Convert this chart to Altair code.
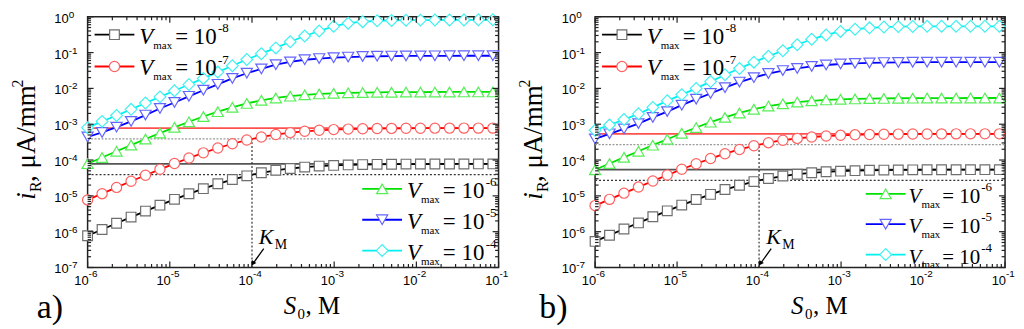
import altair as alt
import pandas as pd

# ---------------- data ----------------
S0 = [1.0e-6, 1.5e-6, 2.25e-6, 3.38e-6, 5.06e-6, 7.59e-6, 1.14e-5, 1.71e-5, 2.56e-5, 3.84e-5,
      5.77e-5, 8.65e-5, 1.30e-4, 1.95e-4, 2.92e-4, 4.38e-4, 6.57e-4, 9.85e-4, 1.48e-3, 2.22e-3,
      3.33e-3, 4.99e-3, 7.48e-3, 1.12e-2, 1.68e-2, 2.53e-2, 3.79e-2, 5.68e-2, 8.52e-2]

# panel a)
A_VMAX_1E8 = [7.7e-7, 1.15e-6, 1.72e-6, 2.55e-6, 3.76e-6, 5.5e-6, 7.98e-6, 1.14e-5, 1.59e-5, 2.17e-5,
              2.85e-5, 3.62e-5, 4.4e-5, 5.15e-5, 5.81e-5, 6.35e-5, 6.77e-5, 7.08e-5, 7.31e-5, 7.46e-5,
              7.57e-5, 7.65e-5, 7.70e-5, 7.73e-5, 7.75e-5, 7.77e-5, 7.78e-5, 7.79e-5, 7.79e-5]
A_VMAX_1E7 = [7.7e-6, 1.15e-5, 1.72e-5, 2.55e-5, 3.76e-5, 5.5e-5, 7.98e-5, 1.14e-4, 1.59e-4, 2.17e-4,
              2.85e-4, 3.62e-4, 4.4e-4, 5.15e-4, 5.81e-4, 6.35e-4, 6.77e-4, 7.08e-4, 7.31e-4, 7.46e-4,
              7.57e-4, 7.65e-4, 7.70e-4, 7.73e-4, 7.75e-4, 7.77e-4, 7.78e-4, 7.79e-4, 7.79e-4]
A_VMAX_1E6 = [7.9e-5, 1.18e-4, 1.76e-4, 2.61e-4, 3.86e-4, 5.65e-4, 8.2e-4, 1.17e-3, 1.64e-3, 2.24e-3,
              2.97e-3, 3.8e-3, 4.65e-3, 5.4e-3, 6.05e-3, 6.6e-3, 7.0e-3, 7.3e-3, 7.5e-3, 7.65e-3,
              7.75e-3, 7.82e-3, 7.87e-3, 7.9e-3, 7.93e-3, 7.95e-3, 7.96e-3, 7.97e-3, 7.97e-3]
A_VMAX_1E5 = [4.4e-4, 5.9e-4, 8.3e-4, 1.2e-3, 1.8e-3, 2.75e-3, 4.05e-3, 6.0e-3, 8.9e-3, 1.3e-2,
              1.9e-2, 2.65e-2, 3.5e-2, 4.6e-2, 5.5e-2, 6.3e-2, 6.8e-2, 7.2e-2, 7.5e-2, 7.75e-2,
              7.9e-2, 8.0e-2, 8.05e-2, 8.1e-2, 8.12e-2, 8.14e-2, 8.15e-2, 8.15e-2, 8.15e-2]
A_VMAX_1E4 = [8.0e-4, 1.2e-3, 1.75e-3, 2.6e-3, 3.9e-3, 5.8e-3, 8.6e-3, 1.28e-2, 1.9e-2, 2.85e-2,
              4.3e-2, 6.4e-2, 9.3e-2, 0.135, 0.2, 0.29, 0.4, 0.54, 0.66, 0.73,
              0.77, 0.79, 0.80, 0.805, 0.81, 0.815, 0.815, 0.82, 0.82]

# panel b)
B_VMAX_1E8 = [5.35e-7, 7.98e-7, 1.19e-6, 1.76e-6, 2.6e-6, 3.81e-6, 5.52e-6, 7.88e-6, 1.10e-5, 1.5e-5,
              1.97e-5, 2.5e-5, 3.05e-5, 3.57e-5, 4.02e-5, 4.4e-5, 4.69e-5, 4.9e-5, 5.06e-5, 5.17e-5,
              5.24e-5, 5.29e-5, 5.33e-5, 5.35e-5, 5.37e-5, 5.38e-5, 5.39e-5, 5.39e-5, 5.39e-5]
B_VMAX_1E7 = [5.35e-6, 7.98e-6, 1.19e-5, 1.76e-5, 2.6e-5, 3.81e-5, 5.52e-5, 7.88e-5, 1.10e-4, 1.5e-4,
              1.97e-4, 2.5e-4, 3.05e-4, 3.57e-4, 4.02e-4, 4.4e-4, 4.69e-4, 4.9e-4, 5.06e-4, 5.17e-4,
              5.24e-4, 5.29e-4, 5.33e-4, 5.35e-4, 5.37e-4, 5.38e-4, 5.39e-4, 5.39e-4, 5.39e-4]
B_VMAX_1E6 = [5.35e-5, 7.98e-5, 1.19e-4, 1.76e-4, 2.6e-4, 3.81e-4, 5.6e-4, 8.1e-4, 1.14e-3, 1.55e-3,
              2.06e-3, 2.62e-3, 3.2e-3, 3.72e-3, 4.15e-3, 4.5e-3, 4.76e-3, 4.95e-3, 5.08e-3, 5.18e-3,
              5.25e-3, 5.3e-3, 5.33e-3, 5.35e-3, 5.37e-3, 5.38e-3, 5.39e-3, 5.39e-3, 5.39e-3]
B_VMAX_1E5 = [3.9e-4, 5.4e-4, 7.4e-4, 1.04e-3, 1.55e-3, 2.25e-3, 3.4e-3, 5.0e-3, 7.2e-3, 1.05e-2,
              1.5e-2, 2.0e-2, 2.6e-2, 3.15e-2, 3.6e-2, 4.1e-2, 4.5e-2, 4.8e-2, 5.0e-2, 5.15e-2,
              5.25e-2, 5.32e-2, 5.36e-2, 5.38e-2, 5.4e-2, 5.4e-2, 5.4e-2, 5.4e-2, 5.4e-2]
B_VMAX_1E4 = [6.8e-4, 9.5e-4, 1.35e-3, 1.95e-3, 2.95e-3, 4.5e-3, 6.7e-3, 1.0e-2, 1.55e-2, 2.4e-2,
              3.6e-2, 5.4e-2, 7.9e-2, 0.113, 0.165, 0.235, 0.31, 0.39, 0.45, 0.49,
              0.515, 0.53, 0.537, 0.54, 0.54, 0.54, 0.54, 0.54, 0.54]

# saturation (solid) and half-saturation (dotted) guide levels for Vmax 1e-8 and 1e-7
A_SAT = [7.8e-5, 7.8e-4]
A_HALF = [3.9e-5, 3.9e-4]
B_SAT = [5.4e-5, 5.4e-4]
B_HALF = [2.7e-5, 2.7e-4]
KM = 1e-4

X_MAJOR = [1e-6, 1e-5, 1e-4, 1e-3, 1e-2, 1e-1]
X_EXP = ["-6", "-5", "-4", "-3", "-2", "-1"]
Y_MAJOR = [1.0, 1e-1, 1e-2, 1e-3, 1e-4, 1e-5, 1e-6, 1e-7]
Y_EXP = ["0", "-1", "-2", "-3", "-4", "-5", "-6", "-7"]
X_MINOR = [m * 10.0 ** e for e in range(-6, -1) for m in range(2, 10)]
Y_MINOR = [m * 10.0 ** e for e in range(-7, 0) for m in range(2, 10)]
VMAX_EXP = ["-8", "-7", "-6", "-5", "-4"]

# ---------------- styling ----------------
H = 252
W_A, W_B = 413, 412
SERIF = "Liberation Serif"
SANS = "Liberation Sans"
XS = alt.Scale(type="log", domain=[1e-6, 1e-1], nice=False)
YS = alt.Scale(type="log", domain=[1e-7, 1.0], nice=False)
ONE = pd.DataFrame({"d": [0]})

STYLE = [  # line colour, marker colour, shape, size
    ("#000000", "#6e6e6e", "square", 95),
    ("#ff0000", "#ff6060", "circle", 105),
    ("#00e000", "#55ee55", "triangle-up", 125),
    ("#0000ff", "#6464ff", "triangle-down", 125),
    ("#00f0f0", "#40f0f0", "diamond", 140),
]


def X(field="S"):
    return alt.X(f"{field}:Q", scale=XS, axis=None)


def Y(field="i"):
    return alt.Y(f"{field}:Q", scale=YS, axis=None)


def txt(x, y, s, size, italic=False, align="left", angle=None, font=SERIF):
    kw = dict(align=align, baseline="alphabetic", font=font, fontSize=size, color="black")
    if italic:
        kw["fontStyle"] = "italic"
    if angle is not None:
        kw["angle"] = angle
    return alt.Chart(ONE).mark_text(**kw).encode(x=alt.value(x), y=alt.value(y), text=alt.value(s))


def legend_entry(x0, y0, k, compact=False):
    lc, mc, shp, sz = STYLE[k]
    if compact:
        off, fs = (43, 56, 77, 116), 21
    else:
        off, fs = (45, 59, 81, 124), 23
    out = [
        alt.Chart(ONE).mark_rule(color=lc, strokeWidth=1.8).encode(
            x=alt.value(x0), x2=alt.value(x0 + 40), y=alt.value(y0)),
        alt.Chart(ONE).mark_point(shape=shp, size=sz, filled=True, fill="white", stroke=mc,
                                  strokeWidth=1.2, opacity=1).encode(
            x=alt.value(x0 + 20), y=alt.value(y0)),
        txt(x0 + off[0], y0 + 9, "V", fs, italic=True),
        txt(x0 + off[1], y0 + 14, "max", 11),
        txt(x0 + off[2], y0 + 9, "= 10", fs),
        txt(x0 + off[3], y0 - 3, VMAX_EXP[k], 13),
    ]
    return out


def panel(series, sat, half, W, letter, letter_x, leg1, leg2, anchor, compact):
    L = []
    # white anchors fixing the overall bounds
    L.append(alt.Chart(ONE).mark_rule(color="white", strokeWidth=1).encode(
        x=alt.value(anchor[0]), y=alt.value(anchor[1]), y2=alt.value(anchor[1] + 1)))
    # guide lines
    L.append(alt.Chart(pd.DataFrame({"i": [half[0]]})).mark_rule(
        color="#333333", strokeWidth=1.2, strokeDash=[2, 2]).encode(
        y=Y(), x=alt.value(0), x2=alt.value(W)))
    L.append(alt.Chart(pd.DataFrame({"i": [half[1]]})).mark_rule(
        color="#9a9a9a", strokeWidth=1.2, strokeDash=[2, 1.5]).encode(
        y=Y(), x=alt.value(0), x2=alt.value(W)))
    L.append(alt.Chart(pd.DataFrame({"i": [sat[0]]})).mark_rule(
        color="#555555", strokeWidth=1.6).encode(y=Y(), x=alt.value(0), x2=alt.value(W)))
    L.append(alt.Chart(pd.DataFrame({"i": [sat[1]]})).mark_rule(
        color="#ff5050", strokeWidth=1.8).encode(y=Y(), x=alt.value(0), x2=alt.value(W)))
    L.append(alt.Chart(pd.DataFrame({"S": [KM], "lo": [1e-7], "hi": [half[1]]})).mark_rule(
        color="#333333", strokeWidth=1.2, strokeDash=[2, 2]).encode(
        x=X(), y=Y("lo"), y2="hi:Q"))
    # series
    for k, vals in enumerate(series):
        lc, mc, shp, sz = STYLE[k]
        df = pd.DataFrame({"S": S0, "i": vals})
        L.append(alt.Chart(df).mark_line(color=lc, strokeWidth=1.8).encode(x=X(), y=Y()))
        L.append(alt.Chart(df).mark_point(shape=shp, size=sz, filled=True, fill="white", stroke=mc,
                                          strokeWidth=1.2, opacity=1).encode(x=X(), y=Y()))
    # ticks
    xmaj = pd.DataFrame({"S": X_MAJOR, "e": X_EXP})
    xmin = pd.DataFrame({"S": X_MINOR})
    ymaj = pd.DataFrame({"i": Y_MAJOR, "e": Y_EXP})
    ymin = pd.DataFrame({"i": Y_MINOR})
    tk = dict(color="#222222", strokeWidth=1.2)
    for d, ln in ((xmaj, 6), (xmin, 3.5)):
        L.append(alt.Chart(d).mark_rule(**tk).encode(x=X(), y=alt.value(H), y2=alt.value(H - ln)))
        L.append(alt.Chart(d).mark_rule(**tk).encode(x=X(), y=alt.value(0), y2=alt.value(ln)))
    for d, ln in ((ymaj, 6), (ymin, 3.5)):
        L.append(alt.Chart(d).mark_rule(**tk).encode(y=Y(), x=alt.value(0), x2=alt.value(ln)))
        L.append(alt.Chart(d).mark_rule(**tk).encode(y=Y(), x=alt.value(W), x2=alt.value(W - ln)))
    # tick labels
    L.append(alt.Chart(xmaj).mark_text(align="right", baseline="alphabetic", font=SANS, fontSize=13,
                                       dx=1, color="black").encode(
        x=X(), y=alt.value(H + 18), text=alt.value("10")))
    L.append(alt.Chart(xmaj).mark_text(align="left", baseline="alphabetic", font=SANS, fontSize=10,
                                       dx=1, color="black").encode(
        x=X(), y=alt.value(H + 10), text="e:N"))
    L.append(alt.Chart(ymaj).mark_text(align="right", baseline="alphabetic", font=SANS, fontSize=13,
                                       dy=6, color="black").encode(
        y=Y(), x=alt.value(-19), text=alt.value("10")))
    L.append(alt.Chart(ymaj).mark_text(align="left", baseline="alphabetic", font=SANS, fontSize=10,
                                       dy=1, color="black").encode(
        y=Y(), x=alt.value(-19), text="e:N"))
    # axis titles
    L += [
        txt(-53, 184, "i", 27, italic=True, angle=270),
        txt(-47, 176, "R", 16, angle=270),
        txt(-53, 166, ", \u03bcA/mm", 27, angle=270),
        txt(-65, 71, "2", 16, angle=270),
        txt(197, 299, "S", 25, italic=True),
        txt(211, 304, "0", 15),
        txt(219, 299, ", M", 25),
        txt(letter_x, 303, letter, 34),
    ]
    # K_M annotation
    L += [
        txt(172, 228, "K", 22, italic=True),
        txt(188, 233, "M", 14),
        alt.Chart(ONE).mark_rule(color="black", strokeWidth=1.3).encode(
            x=alt.value(177), y=alt.value(233), x2=alt.value(167), y2=alt.value(247)),
        alt.Chart(ONE).mark_point(shape="triangle-up", size=30, filled=True, color="black",
                                  opacity=1, angle=214).encode(x=alt.value(166), y=alt.value(248)),
    ]
    # legends
    for r in range(2):
        L += legend_entry(leg1[0], leg1[1] + 32 * r, r)
    for r in range(3):
        L += legend_entry(leg2[0], leg2[1] + leg2[2] * r, r + 2, compact)
    return alt.layer(*L).properties(width=W, height=H)


pa = panel([A_VMAX_1E8, A_VMAX_1E7, A_VMAX_1E6, A_VMAX_1E5, A_VMAX_1E4], A_SAT, A_HALF, W_A,
           "a)", -51, (7, 18), (276, 173, 31), (-78, -6), False)
pb = panel([B_VMAX_1E8, B_VMAX_1E7, B_VMAX_1E6, B_VMAX_1E5, B_VMAX_1E4], B_SAT, B_HALF, W_B,
           "b)", -56, (7, 18), (272, 178, 30.5), (0, 0), True)

chart = alt.hconcat(pa, pb, spacing=97, bounds="flush", padding=0).configure_view(
    stroke="#222222", strokeWidth=1.5)

chart.save("out.html", embed_options={"renderer": "svg", "actions": False})
